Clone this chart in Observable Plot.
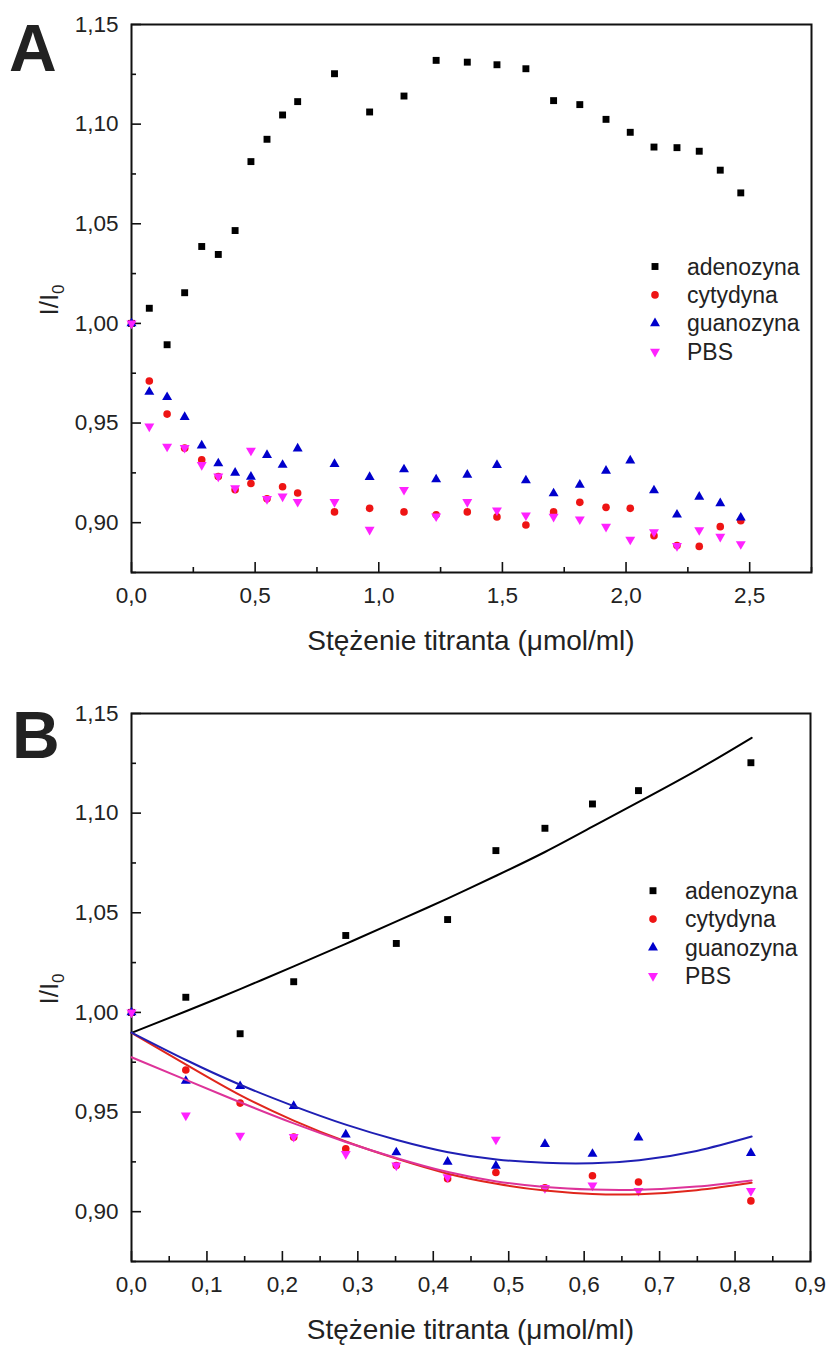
<!DOCTYPE html>
<html>
<head>
<meta charset="utf-8">
<script src="https://cdn.jsdelivr.net/npm/d3@7"></script>
<script src="https://cdn.jsdelivr.net/npm/@observablehq/plot@0.6"></script>
<style>
  body { margin: 0; background: #fff; font-family: "Liberation Sans", Arial, sans-serif; }
  #chart { width: 830px; }
  #chart svg { display: block; }
</style>
</head>
<body>
<div id="chart"></div>
<script>
// ---- data ----
const conc = [0, 0.072, 0.144, 0.215, 0.284, 0.351, 0.419, 0.483, 0.548, 0.611, 0.672, 0.821, 0.963,
  1.102, 1.232, 1.358, 1.478, 1.595, 1.707, 1.813, 1.919, 2.017, 2.113, 2.206, 2.296, 2.381, 2.464];
const adenozyna = [1.000, 1.0076, 0.9893, 1.0154, 1.0386, 1.0346, 1.0466, 1.0812, 1.0924, 1.1046, 1.1113, 1.1253, 1.1061,
  1.1141, 1.1320, 1.1311, 1.1298, 1.1278, 1.1118, 1.1098, 1.1024, 1.0959, 1.0885, 1.0882, 1.0864, 1.0769, 1.0655];
const cytydyna = [1.000, 0.9711, 0.9545, 0.9374, 0.9316, 0.9232, 0.9165, 0.9197, 0.9120, 0.9180, 0.9149, 0.9054, 0.9072,
  0.9054, 0.9040, 0.9054, 0.9029, 0.8988, 0.9054, 0.9102, 0.9077, 0.9072, 0.8935, 0.8885, 0.8881, 0.8980, 0.9010];
const guanozyna = [1.000, 0.9656, 0.9630, 0.9530, 0.9387, 0.9297, 0.9250, 0.9230, 0.9339, 0.9290, 0.9372, 0.9294, 0.9229,
  0.9267, 0.9217, 0.9240, 0.9289, 0.9212, 0.9147, 0.9190, 0.9260, 0.9312, 0.9162, 0.9040, 0.9130, 0.9097, 0.9025];
const pbs = [1.000, 0.9483, 0.9382, 0.9376, 0.9290, 0.9232, 0.9174, 0.9362, 0.9119, 0.9132, 0.9105, 0.9104, 0.8965,
  0.9165, 0.9032, 0.9104, 0.9062, 0.9037, 0.9030, 0.9017, 0.8980, 0.8915, 0.8953, 0.8883, 0.8963, 0.8930, 0.8893];

// number of titration points shown in panel B
const nB = 12;

// fitted curves of panel B, read at these concentrations
const fitX = [0, 0.073, 0.144, 0.215, 0.284, 0.352, 0.418, 0.484, 0.548, 0.611, 0.673, 0.749, 0.822];
const fitAdenozyna = [0.9897, 1.0007, 1.0117, 1.0231, 1.0344, 1.0458, 1.0570, 1.0687, 1.0805, 1.0932, 1.1058, 1.1215, 1.1378];
const fitCytydyna = [0.9897, 0.9737, 0.9585, 0.9457, 0.9352, 0.9265, 0.9192, 0.9140, 0.9106, 0.9089, 0.9088, 0.9108, 0.9145];
const fitGuanozyna = [0.9899, 0.9760, 0.9637, 0.9530, 0.9437, 0.9360, 0.9300, 0.9262, 0.9245, 0.9243, 0.9258, 0.9305, 0.9377];
const fitPbs = [0.9775, 0.9660, 0.9549, 0.9443, 0.9350, 0.9268, 0.9200, 0.9152, 0.9124, 0.9111, 0.9110, 0.9126, 0.9157];

const seriesNames = ["adenozyna", "cytydyna", "guanozyna", "PBS"];
const seriesValues = [adenozyna, cytydyna, guanozyna, pbs];
const fitValues = [fitAdenozyna, fitCytydyna, fitGuanozyna, fitPbs];

const yTicks = [0.90, 0.95, 1.00, 1.05, 1.10, 1.15];
const yMinor = [0.875, 0.925, 0.975, 1.025, 1.075, 1.125];
const xTicksA = [0, 0.5, 1.0, 1.5, 2.0, 2.5];
const xMinorA = [0.25, 0.75, 1.25, 1.75, 2.25, 2.75];
const xTicksB = [0, 0.1, 0.2, 0.3, 0.4, 0.5, 0.6, 0.7, 0.8, 0.9];
const xMinorB = [0.05, 0.15, 0.25, 0.35, 0.45, 0.55, 0.65, 0.75, 0.85];

const xTitle = "Stężenie titranta (μmol/ml)";

// ---- styles ----
const markerColors = ["#000000", "#ee1414", "#0000cc", "#ff22ff"];
const lineColors = ["#000000", "#e0261c", "#1f1fb4", "#dd3399"];
const markerSymbols = ["square", "circle", "triangle", "triangle"];
const markerRotate = [0, 0, 0, 180];
const markerR = [3.9, 3.8, 3.7, 3.7];
const FONT = "'Liberation Sans', Arial, Helvetica, sans-serif";

const fmtY = d => d.toFixed(2).replace(".", ",");
const fmtX = d => d.toFixed(1).replace(".", ",");

function pointMarks(n) {
  return seriesNames.map((name, i) =>
    Plot.dot(conc.slice(0, n).map((x, j) => ({x, y: seriesValues[i][j]})), {
      x: "x", y: "y", symbol: markerSymbols[i], r: markerR[i], fill: markerColors[i],
      rotate: markerRotate[i]
    })
  );
}

function fitMarks() {
  return seriesNames.map((name, i) =>
    Plot.line(fitX.map((x, j) => ({x, y: fitValues[i][j]})), {
      x: "x", y: "y", stroke: lineColors[i], strokeWidth: 2, curve: "natural"
    })
  );
}

function axisMarks(xTicks, xMinor) {
  return [
    Plot.axisY(yTicks, {tickSize: 10, dx: 10, tickFormat: () => "", stroke: "#111", strokeWidth: 1.6, label: null}),
    Plot.axisY(yMinor, {tickSize: 5, dx: 5, tickFormat: () => "", stroke: "#111", strokeWidth: 1.6, label: null}),
    Plot.axisY(yTicks, {tickSize: 0, tickPadding: 13, tickFormat: fmtY, fontSize: 22.5, fill: "#222", label: null}),
    Plot.axisX(xTicks, {tickSize: 10, dy: -10, tickFormat: () => "", stroke: "#111", strokeWidth: 1.6, label: null}),
    Plot.axisX(xMinor, {tickSize: 5, dy: -5, tickFormat: () => "", stroke: "#111", strokeWidth: 1.6, label: null}),
    Plot.axisX(xTicks, {tickSize: 0, tickPadding: 15, tickFormat: fmtX, fontSize: 22.5, fill: "#222", label: null}),
    Plot.frame({stroke: "#111", strokeWidth: 2})
  ];
}

function decorate(svg, {letter, letterX, letterBaseline, frameTop, legendX, legendY0, frameLeft, frameRight, frameBottom}) {
  const s = d3.select(svg);
  // panel letter
  s.append("text").attr("x", letterX).attr("y", letterBaseline).attr("text-anchor", "start")
    .attr("font-family", FONT).attr("font-size", 66).attr("font-weight", "bold").attr("fill", "#222")
    .text(letter);
  // y label with subscript
  const yl = s.append("text")
    .attr("transform", `translate(58,${frameTop + 276}) rotate(-90)`)
    .attr("text-anchor", "middle").attr("font-family", FONT).attr("font-size", 26).attr("fill", "#222");
  yl.append("tspan").text("I/I");
  yl.append("tspan").attr("font-size", 17).attr("dy", 6).text("0");
  // x title
  s.append("text").attr("x", (frameLeft + frameRight) / 2).attr("y", frameBottom + 78)
    .attr("text-anchor", "middle").attr("font-family", FONT).attr("font-size", 28).attr("fill", "#222")
    .text(xTitle);
  // legend
  const g = s.append("g");
  seriesNames.forEach((name, i) => {
    const y = legendY0 + i * 28.4;
    const sym = {square: d3.symbolSquare, circle: d3.symbolCircle, triangle: d3.symbolTriangle}[markerSymbols[i]];
    g.append("path")
      .attr("d", d3.symbol(sym, Math.PI * markerR[i] * markerR[i])())
      .attr("transform", `translate(${legendX},${y}) rotate(${markerRotate[i]})`)
      .attr("fill", markerColors[i]);
    g.append("text").attr("x", legendX + 32).attr("y", y).attr("dy", "0.35em").attr("text-anchor", "start")
      .attr("font-family", FONT).attr("font-size", 23).attr("fill", "#222").text(name);
  });
}

const common = {
  width: 830,
  marginLeft: 131,
  style: {fontFamily: FONT, fontSize: "22px", background: "#fff", color: "#222", overflow: "visible"},
  y: {domain: [0.875, 1.15]}
};

const svgA = Plot.plot({
  ...common,
  height: 680, marginTop: 24, marginBottom: 108, marginRight: 19,
  x: {domain: [0, 2.75]},
  marks: [...axisMarks(xTicksA, xMinorA), ...pointMarks(conc.length)]
});
decorate(svgA, {letter: "A", letterX: 9, letterBaseline: 71, frameTop: 24,
  legendX: 655, legendY0: 266.5, frameLeft: 131, frameRight: 811, frameBottom: 572});

const svgB = Plot.plot({
  ...common,
  height: 668, marginTop: 33, marginBottom: 87, marginRight: 20,
  x: {domain: [0, 0.9]},
  marks: [...axisMarks(xTicksB, xMinorB), ...pointMarks(nB), ...fitMarks()]
});
decorate(svgB, {letter: "B", letterX: 12, letterBaseline: 78, frameTop: 33,
  legendX: 653, legendY0: 210.7, frameLeft: 131, frameRight: 810, frameBottom: 581});

document.getElementById("chart").append(svgA, svgB);
</script>
</body>
</html>
